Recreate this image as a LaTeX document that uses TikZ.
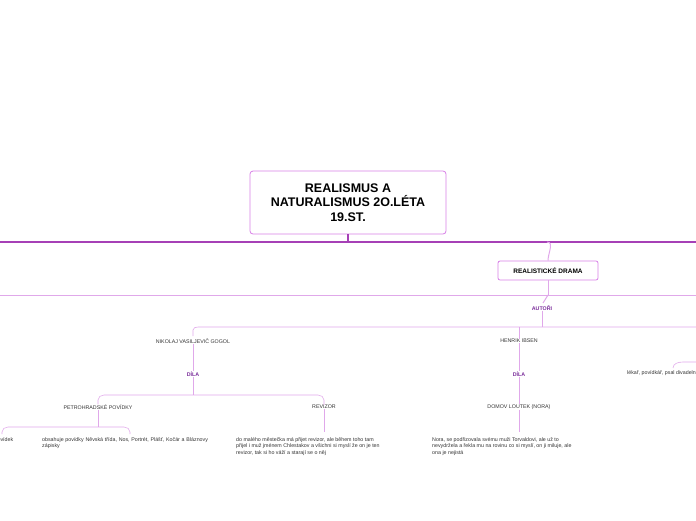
\documentclass[tikz,border=0pt]{standalone}
\usepackage{fontspec}
\setmainfont{Liberation Sans}
\begin{document}
\begin{tikzpicture}[x=1pt,y=-1pt,
  sm/.style={font=\fontsize{5.3}{6.4}\selectfont, inner sep=0pt, text=black!80},
  lab/.style={font=\fontsize{5.3}{6.4}\selectfont\bfseries, inner sep=0pt, text=labc},
  para/.style={font=\fontsize{5.3}{6.8}\selectfont, inner sep=0pt, align=left, anchor=north west, text=black!80},
  ln/.style={draw=linec, line width=1pt},
  lnt/.style={draw=linec, line width=0.6pt}]
\definecolor{boxc}{HTML}{D77FE6}
\definecolor{linec}{HTML}{E0A8EA}
\definecolor{mainc}{HTML}{A640B6}
\definecolor{labc}{HTML}{7A2D9A}
\useasboundingbox (0,0) rectangle (696,520);
\node[draw=boxc, line width=0.8pt, rounded corners=3pt, minimum width=196pt, minimum height=63pt, align=center, font=\fontsize{12.5}{14.5}\selectfont\bfseries] (t) at (348,202.5) {REALISMUS A\\NATURALISMUS 2O.LÉTA\\19.ST.};
\coordinate (l1l) at (0,242); \coordinate (l1r) at (696,242);
\draw[draw=mainc, line width=1.2pt] (l1l) -- (l1r);
\draw[draw=mainc, line width=1.2pt] (t.south) -- (348,242);
\node[draw=boxc, line width=0.8pt, rounded corners=2pt, minimum width=100pt, minimum height=19pt, font=\fontsize{6.5}{8}\selectfont\bfseries] (rd) at (548,270.5) {REALISTICKÉ DRAMA};
\draw[ln] (547,242) to[out=0,in=90] (rd.north);
\coordinate (l2l) at (0,295); \coordinate (l2r) at (696,295);
\draw[ln] (l2l) -- (l2r);
\draw[ln] (rd.south) -- (548,295);
\node[lab] (au) at (542,308) {AUTOŘI};
\draw[ln] (548,295) -- (543,303);
\draw[ln] (au.south) -- (542,327);
\draw[lnt] (193,336) -- (193,330) to[out=90,in=180] (198,327) -- (696,327);
\node[sm] (g) at (193,341) {NIKOLAJ VASILJEVIČ GOGOL};
\node[sm] (ib) at (519,341) {HENRIK IBSEN};
\draw[lnt] (ib.north) -- (519,327);
\node[lab] (d1) at (193,374) {DÍLA};
\node[lab] (d2) at (519,374) {DÍLA};
\draw[lnt] (g.south) -- (d1.north);
\draw[lnt] (ib.south) -- (d2.north);
\draw[ln] (d1.south) -- (193,395);
\node[sm] (pp) at (98,407) {PETROHRADSKÉ POVÍDKY};
\node[sm] (rv) at (324,407) {REVIZOR};
\draw[lnt] (pp.north) -- (98,400) to[out=90,in=180] (104,395) -- (318,395) to[out=0,in=90] (324,400) -- (rv.north);
\node[sm] (dl) at (519,407) {DOMOV LOUTEK (NORA)};
\draw[lnt] (d2.south) -- (dl.north);
\draw[lnt] (pp.south) -- (98,427);
\node[para] (p6) at (-10,437) {6 povídek};
\node[para, text width=172pt] (po) at (42,437) {obsahuje povídky Něvská třída, Nos, Portrét, Plášť, Kočár a Bláznovy zápisky};
\draw[lnt] (2,434) -- (2,432) to[out=90,in=180] (8,427) -- (124,427) to[out=0,in=90] (130,432) -- (130,434);
\node[para] (rt) at (236,437) {do malého městečka má přijet revizor, ale během toho tam\\přijel i muž jménem Chlestakov a všichni si myslí že on je ten\\revizor, tak si ho váží a starají se o něj};
\draw[lnt] (rv.south) -- (324,432);
\node[para] (nt) at (432,437) {Nora, se podřizovala svému muži Torvaldovi, ale už to\\nevydržela a řekla mu na rovinu co si myslí, on ji miluje, ale\\ona je nejistá};
\draw[lnt] (dl.south) -- (519,432);
\node[sm, anchor=west] (lk) at (627,373) {lékař, povídkář, psal divadelní hry};
\draw[lnt] (673,368) to[out=90,in=180] (683,362) -- (696,362);
\end{tikzpicture}
\end{document}
